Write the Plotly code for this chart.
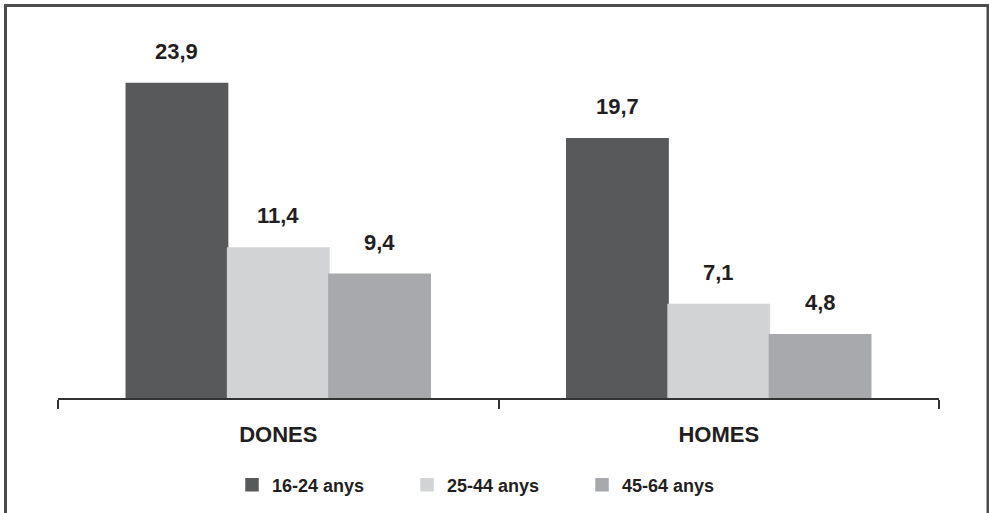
import plotly.graph_objects as go

# Percentages by sex and age group
categories = ["DONES", "HOMES"]
age_groups = ["16-24 anys", "25-44 anys", "45-64 anys"]
values_16_24 = [23.9, 19.7]
values_25_44 = [11.4, 7.1]
values_45_64 = [9.4, 4.8]

series = [values_16_24, values_25_44, values_45_64]
colors = ["#58595b", "#d1d3d4", "#a7a9ac"]
text_color = "#231f20"
font_family = "Liberation Sans, Arial, sans-serif"

W, H = 989, 513
margin = dict(l=58, r=50, t=40, b=115, autoexpand=False)
bargap = 0.31
y_max = 27.2

fig = go.Figure()
for name, vals, col in zip(age_groups, series, colors):
    fig.add_trace(go.Bar(
        x=categories, y=vals, name=name,
        marker=dict(color=col, line=dict(width=1.5, color=col)),
        hoverinfo="skip",
    ))

# Value labels above each bar, positioned from the bar layout
n = len(series)
bar_w = (1 - bargap) / n
annotations = []
for si, vals in enumerate(series):
    for ci, v in enumerate(vals):
        annotations.append(dict(
            x=ci + (si - (n - 1) / 2) * bar_w, y=v, xref="x", yref="y",
            text=f"{v:.1f}".replace(".", ","), showarrow=False,
            yshift=32,
            font=dict(size=22, color=text_color, family=font_family, weight="bold"),
        ))

# Outer frame in paper coordinates (open at the bottom edge of the page)
pw = W - margin["l"] - margin["r"]
ph = H - margin["t"] - margin["b"]
def px_x(px):
    return (px - margin["l"]) / pw
def px_y(py):
    return (H - margin["b"] - py) / ph

fig.add_shape(type="rect", xref="paper", yref="paper",
              x0=px_x(5.5), x1=px_x(988), y0=px_y(5.5), y1=px_y(530),
              line=dict(color="#4d4d4f", width=3), layer="above")

fig.update_layout(
    width=W, height=H, margin=margin,
    barmode="group", bargap=bargap, bargroupgap=0,
    plot_bgcolor="white", paper_bgcolor="white",
    font=dict(family=font_family, color=text_color),
    annotations=annotations,
    showlegend=True,
    legend=dict(
        orientation="h", x=0.5 - 4 / pw, xanchor="center",
        yref="container", y=(H - 485) / H, yanchor="middle",
        font=dict(size=18, color=text_color, family=font_family, weight="bold"),
        traceorder="normal",
        entrywidth=130, entrywidthmode="pixels",
    ),
    xaxis=dict(
        showline=True, linecolor="#333333", linewidth=1.5,
        ticks="outside", tickson="boundaries", ticklen=9, tickwidth=1.5,
        tickcolor="#333333", showgrid=False,
        tickfont=dict(size=22, color=text_color, family=font_family, weight="bold"),
        ticklabelstandoff=16,
    ),
    yaxis=dict(range=[0, y_max], visible=False, showgrid=False, zeroline=False),
)

fig.write_html("out.html")
